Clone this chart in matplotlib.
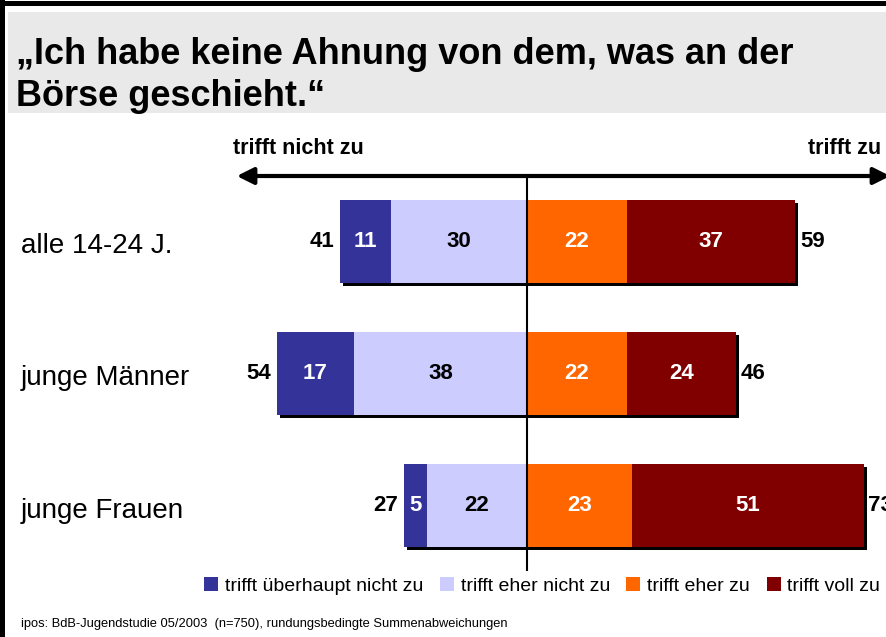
import matplotlib
matplotlib.use("Agg")
import matplotlib.pyplot as plt
from matplotlib.patches import Rectangle, FancyArrowPatch
from matplotlib.lines import Line2D
import matplotlib.transforms as mtransforms

plt.rcParams['font.family'] = ['Liberation Sans', 'DejaVu Sans']

categories = ["alle 14-24 J.", "junge Männer", "junge Frauen"]
series_names = ["trifft überhaupt nicht zu", "trifft eher nicht zu", "trifft eher zu", "trifft voll zu"]
ueberhaupt_nicht = [11, 17, 5]
eher_nicht = [30, 38, 22]
eher_zu = [22, 22, 23]
voll_zu = [37, 24, 51]
total_nicht = [41, 54, 27]
total_zu = [59, 46, 73]
colors = ["#333399", "#CCCCFF", "#FF6600", "#800000"]
text_colors = ["white", "black", "white", "white"]

W, H = 887, 637
fig = plt.figure(figsize=(W / 100, H / 100), dpi=100)

def fx(px):
    return px / W

def fy(py):
    return 1 - py / H

# frame (left and top) and title band
fig.add_artist(Line2D([fx(2.5), fx(2.5)], [0, 1], transform=fig.transFigure, color="black", lw=3.6))
fig.add_artist(Line2D([0, 1], [fy(2.5), fy(2.5)], transform=fig.transFigure, color="black", lw=3.6))
fig.patches.append(Rectangle((fx(8), fy(113)), 1, fy(12) - fy(113), transform=fig.transFigure,
                             facecolor="#E9E9E9", edgecolor="none", zorder=0))
fig.text(fx(16), fy(55), "„Ich habe keine Ahnung von dem, was an der", fontsize=26,
         fontweight="bold", va="center", ha="left")
fig.text(fx(16), fy(96), "Börse geschieht.“", fontsize=26,
         fontweight="bold", va="center", ha="left")

# bar axes
ppu = 4.55
x0_px = 527
ax_left_px, ax_right_px = 235, 887
ax_top_px, ax_bot_px = 130, 585
ax = fig.add_axes([fx(ax_left_px), fy(ax_bot_px), fx(ax_right_px - ax_left_px),
                   (ax_bot_px - ax_top_px) / H])
ax.set_xlim((ax_left_px - x0_px) / ppu, (ax_right_px - x0_px) / ppu)
spacing = 132.0
c0 = 241.5
ax.set_ylim(2 + (ax_bot_px - c0 - 2 * spacing) / spacing, -(c0 - ax_top_px) / spacing)
ax.axis("off")

ypos = list(range(len(categories)))
bh = 83 / spacing

shadow = mtransforms.offset_copy(ax.transData, fig=fig, x=3, y=-3, units="dots")
negs = [-(a + b) for a, b in zip(ueberhaupt_nicht, eher_nicht)]
widths = [a + b + c + d for a, b, c, d in zip(ueberhaupt_nicht, eher_nicht, eher_zu, voll_zu)]
ax.barh(ypos, widths, left=negs, height=bh, color="black", transform=shadow, zorder=1)

lefts_all = [
    [-(a + b) for a, b in zip(ueberhaupt_nicht, eher_nicht)],
    [-b for b in eher_nicht],
    [0] * 3,
    list(eher_zu),
]
vals_all = [ueberhaupt_nicht, eher_nicht, eher_zu, voll_zu]
handles = []
for i, (lefts, vals) in enumerate(zip(lefts_all, vals_all)):
    h = ax.barh(ypos, vals, left=lefts, height=bh, color=colors[i], zorder=2,
                label=series_names[i])
    handles.append(h)
    for y, l, v in zip(ypos, lefts, vals):
        ax.text(l + v / 2, y, str(v), ha="center", va="center", fontsize=16,
                fontweight="bold", color=text_colors[i], zorder=3)

for y, n, l in zip(ypos, total_nicht, lefts_all[0]):
    ax.text(l - 1.3, y, str(n), ha="right", va="center", fontsize=16,
            fontweight="bold", color="black")
for y, z, w, n in zip(ypos, total_zu, widths, lefts_all[0]):
    ax.text(n + w + 1.0, y, str(z), ha="left", va="center", fontsize=16,
            fontweight="bold", color="black")

# center line
ax.plot([0, 0], [-(c0 - 176) / spacing, 2 + (571 - c0 - 2 * spacing) / spacing], color="black",
        lw=1.5, zorder=4, solid_capstyle="butt")

# category labels
for y, c in zip(ypos, categories):
    fig.text(fx(21), fy(c0 + y * spacing + 5), c, fontsize=20, va="center", ha="left")

# arrow
fig.patches.append(FancyArrowPatch(
    (fx(234), fy(176)), (fx(893), fy(176)), transform=fig.transFigure,
    arrowstyle="<|-|>,head_length=10,head_width=5", color="black", lw=3,
    mutation_scale=1, zorder=5))
fig.text(fx(233), fy(148), "trifft nicht zu", fontsize=15.5, fontweight="bold",
         ha="left", va="center")
fig.text(fx(808), fy(148), "trifft zu", fontsize=15.5, fontweight="bold",
         ha="left", va="center")

# legend
leg = fig.legend(handles=handles, labels=series_names, loc="center left",
                 bbox_to_anchor=(fx(204), fy(586)), ncol=4, frameon=False,
                 fontsize=14, handlelength=0.72, handleheight=0.72,
                 handletextpad=0.35, columnspacing=0.85, borderaxespad=0, borderpad=0)

fig.text(fx(21), fy(624), "ipos: BdB-Jugendstudie 05/2003  (n=750), rundungsbedingte Summenabweichungen",
         fontsize=9.3, ha="left", va="center")

fig.savefig("out.png", dpi=100)
